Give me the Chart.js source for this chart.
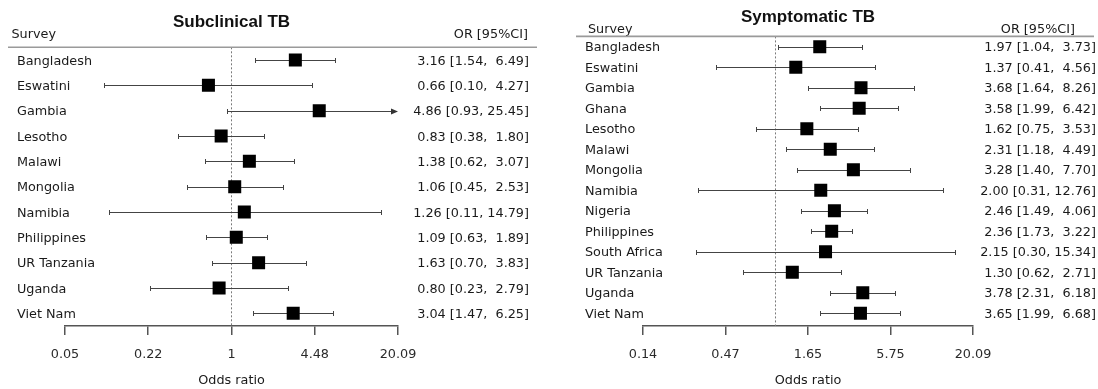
<!DOCTYPE html>
<html>
<head>
<meta charset="utf-8">
<script src="https://cdn.jsdelivr.net/npm/chart.js@4.4.1/dist/chart.umd.min.js"></script>
<style>
  html, body { margin: 0; padding: 0; background: #fff; }
  #wrap { position: relative; width: 1098px; height: 389px; overflow: hidden; }
  #wrap canvas { position: absolute; top: 0; }
</style>
</head>
<body>
<div id="wrap">
  <canvas id="subclinical" width="549" height="389" style="left:0;width:549px;height:389px"></canvas>
  <canvas id="symptomatic" width="549" height="389" style="left:549px;width:549px;height:389px"></canvas>
</div>
<script>
// ---- Subclinical TB ----
const subSurveys = ['Bangladesh', 'Eswatini', 'Gambia', 'Lesotho', 'Malawi', 'Mongolia',
  'Namibia', 'Philippines', 'UR Tanzania', 'Uganda', 'Viet Nam'];
const subOR   = [3.16, 0.66, 4.86, 0.83, 1.38, 1.06, 1.26, 1.09, 1.63, 0.80, 3.04];
const subLow  = [1.54, 0.10, 0.93, 0.38, 0.62, 0.45, 0.11, 0.63, 0.70, 0.23, 1.47];
const subHigh = [6.49, 4.27, 25.45, 1.80, 3.07, 2.53, 14.79, 1.89, 3.83, 2.79, 6.25];
const subTicks = [0.0498, 0.2231, 1, 4.4817, 20.0855];
const subTickLabels = ['0.05', '0.22', '1', '4.48', '20.09'];

// ---- Symptomatic TB ----
const symSurveys = ['Bangladesh', 'Eswatini', 'Gambia', 'Ghana', 'Lesotho', 'Malawi', 'Mongolia',
  'Namibia', 'Nigeria', 'Philippines', 'South Africa', 'UR Tanzania', 'Uganda', 'Viet Nam'];
const symOR   = [1.97, 1.37, 3.68, 3.58, 1.62, 2.31, 3.28, 2.00, 2.46, 2.36, 2.15, 1.30, 3.78, 3.65];
const symLow  = [1.04, 0.41, 1.64, 1.99, 0.75, 1.18, 1.40, 0.31, 1.49, 1.73, 0.30, 0.62, 2.31, 1.99];
const symHigh = [3.73, 4.56, 8.26, 6.42, 3.53, 4.49, 7.70, 12.76, 4.06, 3.22, 15.34, 2.71, 6.18, 6.68];
const symTicks = [0.1353, 0.4724, 1.6487, 5.7546, 20.0855];
const symTickLabels = ['0.14', '0.47', '1.65', '5.75', '20.09'];

const TEXT = '#1a1a1a';
const BODY_FONT = '12.8px "DejaVu Sans"';
const TITLE_FONT = 'bold 17px "Liberation Sans", Arial, sans-serif';

function ciText(or, lo, hi) {
  return or.toFixed(2) + ' [' + lo.toFixed(2) + ', ' + hi.toFixed(2).padStart(5, ' ') + ']';
}

// Draws the reference line, the confidence intervals and all the text columns.
const forestPlugin = {
  id: 'forest',
  beforeDatasetsDraw(chart, args, o) {
    const { ctx, chartArea: a, scales: { x, y } } = chart;
    ctx.save();
    // line of no effect (OR = 1)
    const x1 = Math.round(x.getPixelForValue(1)) + 0.5;
    ctx.strokeStyle = '#7a7a7a';
    ctx.lineWidth = 1;
    ctx.setLineDash([2, 2]);
    ctx.beginPath();
    ctx.moveTo(x1, a.top);
    ctx.lineTo(x1, a.bottom);
    ctx.stroke();
    ctx.setLineDash([]);

    // 95% confidence intervals
    ctx.strokeStyle = '#444';
    ctx.fillStyle = '#333';
    ctx.lineWidth = 1;
    o.low.forEach((lo, i) => {
      const hi = o.high[i];
      const py = Math.round(y.getPixelForValue(i)) + 0.5;
      const xl = Math.round(x.getPixelForValue(Math.max(lo, x.min))) + 0.5;
      const clipped = hi > x.max;
      const xr = clipped ? x.getPixelForValue(x.max) : Math.round(x.getPixelForValue(hi)) + 0.5;
      ctx.beginPath();
      ctx.moveTo(xl, py);
      ctx.lineTo(clipped ? xr - 5 : xr, py);
      ctx.stroke();
      ctx.beginPath();
      ctx.moveTo(xl, py - 2.5); ctx.lineTo(xl, py + 2.5);
      if (!clipped) { ctx.moveTo(xr, py - 2.5); ctx.lineTo(xr, py + 2.5); }
      ctx.stroke();
      if (clipped) {
        ctx.beginPath();
        ctx.moveTo(xr, py);
        ctx.lineTo(xr - 7, py - 3);
        ctx.lineTo(xr - 7, py + 3);
        ctx.closePath();
        ctx.fill();
      }
    });
    ctx.restore();
  },
  afterDraw(chart, args, o) {
    const { ctx, chartArea: a, scales: { y } } = chart;
    ctx.save();
    // panel title
    ctx.fillStyle = '#111';
    ctx.font = TITLE_FONT;
    ctx.textAlign = 'center';
    ctx.textBaseline = 'alphabetic';
    ctx.fillText(o.title, (a.left + a.right) / 2, o.titleY);

    // column headings
    ctx.fillStyle = TEXT;
    ctx.font = BODY_FONT;
    ctx.textAlign = 'left';
    ctx.fillText('Survey', o.headX, o.headY);
    ctx.textAlign = 'right';
    ctx.fillText('OR [95%CI]', o.orHeadX, o.headY + o.orHeadDy);

    // rule under the headings
    ctx.strokeStyle = '#9a9a9a';
    ctx.lineWidth = 1.6;
    ctx.beginPath();
    ctx.moveTo(o.ruleX0, a.top);
    ctx.lineTo(o.ruleX1, a.top);
    ctx.stroke();

    // survey names and OR [95% CI] text
    o.names.forEach((name, i) => {
      const py = y.getPixelForValue(i) + 4.6;
      ctx.textAlign = 'left';
      ctx.fillText(name, o.nameX, py);
      ctx.textAlign = 'right';
      ctx.fillText(ciText(o.or[i], o.low[i], o.high[i]), o.orX, py);
    });
    ctx.restore();
  }
};

function forestChart(id, names, or, low, high, ticks, tickLabels, opts) {
  return new Chart(document.getElementById(id), {
    type: 'scatter',
    data: {
      datasets: [{
        data: or.map((v, i) => ({ x: v, y: i })),
        pointStyle: 'rect',
        pointRadius: 9.2,
        pointHoverRadius: 9.2,
        borderWidth: 0,
        backgroundColor: '#000',
        showLine: false
      }]
    },
    options: {
      responsive: false,
      animation: false,
      events: [],
      layout: { padding: opts.padding },
      plugins: {
        legend: { display: false },
        tooltip: { enabled: false },
        title: { display: false },
        forest: Object.assign({ names, or, low, high }, opts.text)
      },
      scales: {
        x: {
          type: 'logarithmic',
          position: 'bottom',
          min: ticks[0],
          max: ticks[ticks.length - 1],
          afterBuildTicks: s => { s.ticks = ticks.map(v => ({ value: v })); },
          afterFit: s => { s.height = 63; },
          ticks: {
            autoSkip: false,
            maxRotation: 0,
            padding: 12,
            color: '#2a2a2a',
            font: { family: 'DejaVu Sans', size: 12.8 },
            callback: (v, i) => tickLabels[i]
          },
          grid: { drawOnChartArea: false, drawTicks: true, tickLength: 9, color: '#555', lineWidth: 1.5 },
          border: { display: true, color: '#555', width: 1.5 },
          title: {
            display: true,
            text: 'Odds ratio',
            color: TEXT,
            font: { family: 'DejaVu Sans', size: 12.8 },
            padding: { top: 4, bottom: 1 }
          }
        },
        y: {
          type: 'linear',
          display: false,
          reverse: true,
          min: -0.5,
          max: opts.yMax
        }
      }
    },
    plugins: [forestPlugin]
  });
}

forestChart('subclinical', subSurveys, subOR, subLow, subHigh, subTicks, subTickLabels, {
  padding: { left: 65, right: 151, top: 47.3, bottom: 0 },
  yMax: 10.5,
  text: {
    title: 'Subclinical TB', titleY: 26.7,
    headX: 11.5, headY: 38, orHeadX: 528, orHeadDy: 0,
    ruleX0: 8, ruleX1: 537,
    nameX: 17, orX: 529
  }
});

forestChart('symptomatic', symSurveys, symOR, symLow, symHigh, symTicks, symTickLabels, {
  padding: { left: 94, right: 125, top: 36.4, bottom: 0 },
  yMax: 13.62,
  text: {
    title: 'Symptomatic TB', titleY: 21.7,
    headX: 39, headY: 32.5, orHeadX: 526, orHeadDy: 0.5,
    ruleX0: 27, ruleX1: 545,
    nameX: 36, orX: 547
  }
});
</script>
</body>
</html>
